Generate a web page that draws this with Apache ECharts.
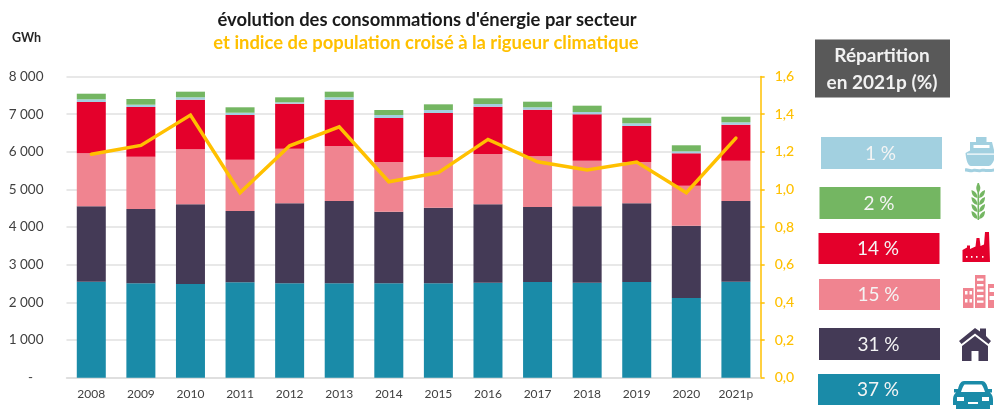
<!DOCTYPE html>
<html>
<head>
<meta charset="utf-8">
<script src="https://cdn.jsdelivr.net/npm/echarts@6/dist/echarts.min.js"></script>
<style>html,body{margin:0;padding:0;background:#fff}#c{width:994px;height:409px}</style>
</head>
<body>
<div id="c"></div>
<script>
const years = ['2008','2009','2010','2011','2012','2013','2014','2015','2016','2017','2018','2019','2020','2021p'];
const transport = [2550,2507,2488,2533,2507,2507,2507,2507,2524,2542,2524,2542,2117,2550];
const residentiel = [2002,1973,2117,1894,2125,2186,1902,2008,2081,1992,2028,2090,1920,2143];
const tertiaire = [1408,1390,1461,1363,1451,1461,1320,1339,1337,1346,1212,1097,1063,1071];
const industrie = [1362,1320,1318,1187,1195,1230,1169,1176,1256,1238,1232,957,860,956];
const maritime = [72,61,63,61,36,63,79,80,71,64,61,71,53,63];
const agriculture = [149,151,150,144,133,150,133,151,152,149,168,149,160,149];
const indice = [1.187,1.234,1.395,0.983,1.232,1.333,1.041,1.089,1.266,1.147,1.103,1.146,0.983,1.273];
const parts = ['1 %','2 %','14 %','15 %','31 %','37 %'];

const TEAL='#1a8ba8', NAVY='#443a56', PINK='#f08490', RED='#e4002b', BLUE='#a2d0e0', GREEN='#74b662', GOLD='#ffc000', FONT='Lato';

const boxes = [
  {x:821,y:137,w:121,h:32,c:BLUE},
  {x:819.5,y:187,w:121,h:32,c:GREEN},
  {x:818.5,y:233,w:121,h:31,c:RED},
  {x:819,y:279,w:121,h:31,c:PINK},
  {x:819,y:328,w:121,h:32,c:NAVY},
  {x:818,y:374,w:122,h:31,c:TEAL}
];
const graphics = [];
let pathCount = 0;
function rect(x,y,w,h,c,z){graphics.push({type:'rect',z:z||10,shape:{x,y,width:w,height:h},style:{fill:c}});}
function path(d,c,z){
  const name='iconPath'+(pathCount++);
  echarts.graphic.registerShape(name,echarts.graphic.extendPath(d,{}));
  graphics.push({type:name,z:z||11,style:{fill:c}});
}
function hole(x,y,w,h){rect(x,y,w,h,'#fff',12);}
function label(t,x,y,size,weight,c){graphics.push({type:'text',z:13,style:{text:t,x,y,fill:c,font:weight+' '+size+'px '+FONT,textAlign:'center',textVerticalAlign:'middle'}});}

rect(815,39.5,135,58,'#595959');
label('Répartition',882,56,19,'700','#f2f2f2');
label('en 2021p (%)',882,82.5,19,'700','#f2f2f2');
boxes.forEach((b,i)=>{rect(b.x,b.y,b.w,b.h,b.c);label(parts[i],b.x+b.w/2-1,b.y+b.h/2+0.5,19,'400','#f4f4f4');});

// bateau
path('M976 137H986.5V142H992L994 150V160C992 165 990 166 988 166H971C968 166 966 160 965.5 153L970 150.5V142H976Z',BLUE);
hole(973.5,145,16,3);
hole(967,153.5,27,1.2);
path('M965 168.5C968 167.5 970 170 973 169C976 168 978 170 981 169C984 168 987 170 994 168.5V171.5C987 173 984 171 981 172C978 173 976 171 973 172C970 173 968 171 965 171.5Z',BLUE);
// épi
rect(977.5,183,1.6,37,GREEN);
path('M978.3 183C981 186 981 190 978.3 193C975.6 190 975.6 186 978.3 183Z',GREEN);
[190,197,204,211].forEach(y=>{
  path('M977.5 '+(y+8)+'C973 '+(y+7)+' 971.5 '+(y+4)+' 971.5 '+y+'C975.5 '+(y+1.5)+' 977.5 '+(y+4)+' 977.5 '+(y+8)+'Z',GREEN);
  path('M979.1 '+(y+8)+'C983.6 '+(y+7)+' 985 '+(y+4)+' 985 '+y+'C981 '+(y+1.5)+' 979.1 '+(y+4)+' 979.1 '+(y+8)+'Z',GREEN);
});
// usine
path('M962.5 262V250L967 247.5V245.5H970V249L975.5 246.5L976.5 238H979.5L980.5 246L984 244.5L985 232H989L990 262Z',RED);
[966,971,976,982].forEach(x=>hole(x,256,1.5,1.8));
// immeubles
path('M975 275H985.5V308H975ZM963 288H973.5V308H963ZM988 284H994V308H988Z',PINK);
[278.5,284,289.5,295,300.5].forEach(y=>hole(977,y,6.5,2.3));
[291,299].forEach(y=>{hole(965,y,2.5,3.5);hole(969.5,y,2.5,3.5);});
[288,296].forEach(y=>hole(989.5,y,4.5,4));
// maison
path('M975 328L980 331.5V328.5H986V336L991 341L988.5 344L975 333.5L961.5 344L959 341Z',NAVY);
path('M975 336L988 346V361H978.5V351H971.5V361H962V346Z',NAVY);
// voiture
path('M964 381H982C985 381 987 384 988 389H992V392.5H990C992.5 395 993 397 993 400V405H990V409H956V405H953V400C953 397 953.5 395 956 392.5H954V389H958C959 384 961 381 964 381Z',TEAL);
path('M964.5 384.5H981.5C983 386 984 389 985 392H961C962 389 963 386 964.5 384.5Z','#fff',12);
path('M957 397H964V401H957ZM982 397H989V401H982ZM968 402H978V404H968Z','#fff',12);

const mk = (name,data,color)=>({type:'bar',stack:'e',barWidth:29,name,data,itemStyle:{color}});

echarts.init(document.getElementById('c'),null,{renderer:'canvas'}).setOption({
  animation:false,
  backgroundColor:'#fff',
  title:[
    {text:"évolution des consommations d'énergie par secteur",left:422,top:6,textAlign:'center',textStyle:{fontFamily:FONT,fontSize:18.4,fontWeight:700,color:'#1a1a1a'}},
    {text:'et indice de population croisé à la rigueur climatique',left:421,top:29,textAlign:'center',textStyle:{fontFamily:FONT,fontSize:18.4,fontWeight:700,color:GOLD}},
    {text:'GWh',left:7,top:26,textStyle:{fontFamily:FONT,fontSize:12.5,fontWeight:700,color:'#262626'}}
  ],
  grid:{left:66.5,right:233.3,top:76.5,bottom:31.3},
  xAxis:{type:'category',data:years,axisTick:{show:false},
    axisLine:{lineStyle:{color:'#dcdcdc',width:1.5}},
    axisLabel:{margin:10,fontFamily:FONT,fontSize:12,color:'#404040',interval:0}},
  yAxis:[
    {type:'value',min:0,max:8000,interval:1000,
     axisLine:{show:false},axisTick:{show:false},
     splitLine:{lineStyle:{color:'#e0e0e0',width:1.5}},
     axisLabel:{margin:23,fontFamily:FONT,fontSize:13.5,color:'#404040',
       formatter:v=>v===0?'-\u00a0\u00a0\u00a0':String(v).replace(/(\d)(\d{3})$/,'$1 $2')}},
    {type:'value',min:0,max:1.6,interval:0.2,position:'right',
     axisLine:{show:true,lineStyle:{color:GOLD,width:1.5}},
     axisTick:{show:true,length:4,lineStyle:{color:GOLD,width:1.5}},
     splitLine:{show:false},
     axisLabel:{margin:14,fontFamily:FONT,fontSize:14,fontWeight:500,color:GOLD,
       formatter:v=>v.toFixed(1).replace('.',',')}}
  ],
  series:[
    mk('Transport',transport,TEAL),
    mk('Résidentiel',residentiel,NAVY),
    mk('Tertiaire',tertiaire,PINK),
    mk('Industrie',industrie,RED),
    mk('Maritime',maritime,BLUE),
    mk('Agriculture',agriculture,GREEN),
    {name:'Indice',type:'line',yAxisIndex:1,data:indice,symbol:'none',z:5,
     lineStyle:{color:GOLD,width:3.5,cap:'round',join:'miter'}}
  ],
  graphic:graphics
});
</script>
</body>
</html>
